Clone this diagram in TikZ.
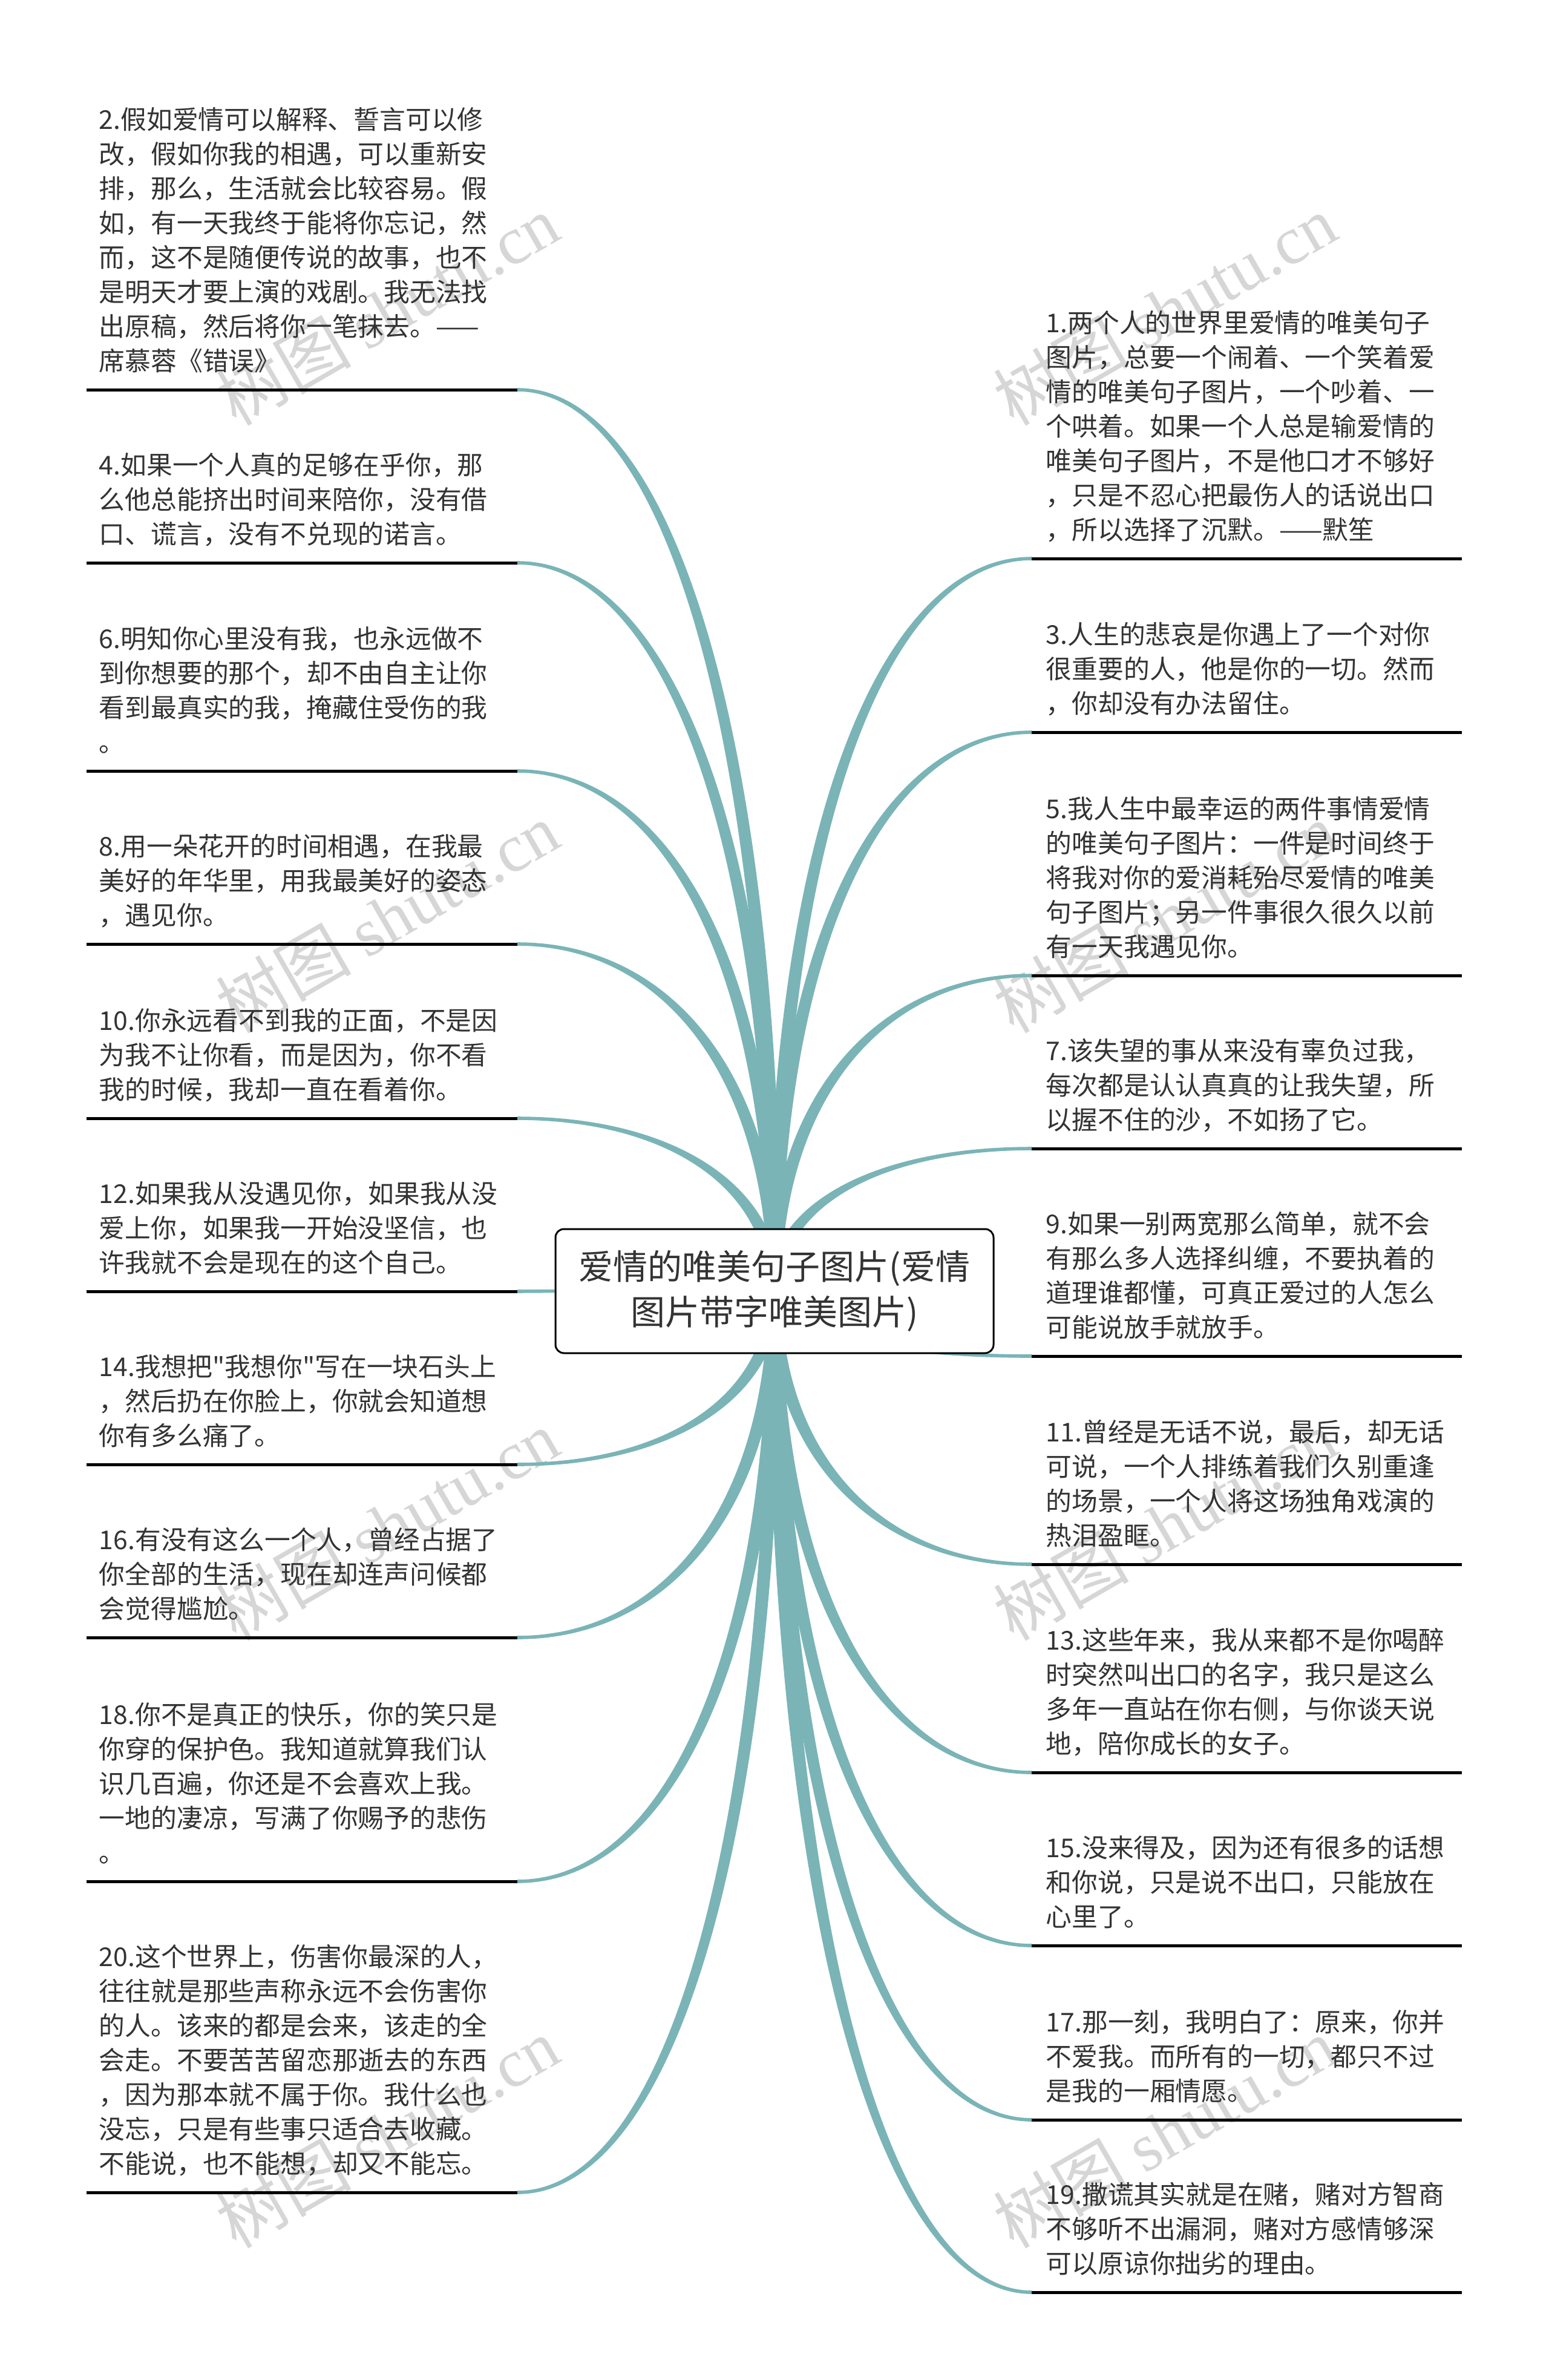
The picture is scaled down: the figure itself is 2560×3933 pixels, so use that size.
\documentclass[tikz,border=0pt]{standalone}
\usepackage{fontspec}
\setmainfont{Noto Sans CJK SC}[Ligatures=TeXOff]
\newfontfamily\wmlatin{Liberation Serif}
\usetikzlibrary{calc,backgrounds}
\definecolor{branchc}{RGB}{122,180,183}
\definecolor{txtc}{RGB}{51,51,51}
\definecolor{wmc}{RGB}{214,214,214}
\newcommand\brW{2.75pt}
\newcommand\brE{0.7pt}
\newcommand\brA{0.6}
\newcommand\brB{0.6}
% tapered branch from the root centre to a named end point; #2 = orientation sign
\newcommand\tbranch[2]{%
  \fill[branchc] let \p1=(root.center), \p2=(#1) in
  ({\x1+\brW},{\y1})
  .. controls ({\x1+\brW},{\y1+\brB*(\y2-(#2)*\brE-\y1)})
  and ({\x2+\brA*(\x1+\brW-\x2)},{\y2-(#2)*\brE})
  .. ({\x2},{\y2-(#2)*\brE})
  -- ({\x2},{\y2+(#2)*\brE})
  .. controls ({\x2+\brA*(\x1-\brW-\x2)},{\y2+(#2)*\brE})
  and ({\x1-\brW},{\y1+\brB*(\y2+(#2)*\brE-\y1)})
  .. ({\x1-\brW},{\y1}) -- cycle;}
\begin{document}
\begin{tikzpicture}[x=0.25pt,y=-0.25pt,
  leaf/.style={anchor=base west, inner sep=0pt, text width=180pt, align=left,
    text=txtc, font=\fontsize{10.7pt}{14.25pt}\selectfont},
  uline/.style={line width=1.25pt, draw=black},
  wm/.style={rotate=30, text=wmc, inner sep=0pt, font=\fontsize{28pt}{28pt}\selectfont},
  rootbox/.style={draw=black, line width=0.75pt, rounded corners=3.5pt, fill=white,
    minimum width=181pt, minimum height=51.25pt, inner sep=0pt, align=center,
    text=txtc, font=\fontsize{14.25pt}{18.75pt}\selectfont}]
\useasboundingbox (0,0) rectangle (2560,3933);

% end points of the connectors (inner ends of the underlines)
\coordinate (e2) at (855,644);   \coordinate (o2) at (143,644);
\coordinate (e4) at (855,930);   \coordinate (o4) at (143,930);
\coordinate (e6) at (855,1274);  \coordinate (o6) at (143,1274);
\coordinate (e8) at (855,1560);  \coordinate (o8) at (143,1560);
\coordinate (e10) at (855,1848); \coordinate (o10) at (143,1848);
\coordinate (e12) at (855,2134); \coordinate (o12) at (143,2134);
\coordinate (e14) at (855,2420); \coordinate (o14) at (143,2420);
\coordinate (e16) at (855,2706); \coordinate (o16) at (143,2706);
\coordinate (e18) at (855,3109); \coordinate (o18) at (143,3109);
\coordinate (e20) at (855,3623); \coordinate (o20) at (143,3623);
\coordinate (e1) at (1705,923);   \coordinate (o1) at (2416,923);
\coordinate (e3) at (1705,1210);  \coordinate (o3) at (2416,1210);
\coordinate (e5) at (1705,1612);  \coordinate (o5) at (2416,1612);
\coordinate (e7) at (1705,1898);  \coordinate (o7) at (2416,1898);
\coordinate (e9) at (1705,2241);  \coordinate (o9) at (2416,2241);
\coordinate (e11) at (1705,2585); \coordinate (o11) at (2416,2585);
\coordinate (e13) at (1705,2929); \coordinate (o13) at (2416,2929);
\coordinate (e15) at (1705,3215); \coordinate (o15) at (2416,3215);
\coordinate (e17) at (1705,3503); \coordinate (o17) at (2416,3503);
\coordinate (e19) at (1705,3788); \coordinate (o19) at (2416,3788);

% central topic
\node[rootbox] (root) at (1280,2133.5) {爱情的唯美句子图片(爱情\\图片带字唯美图片)};

\begin{scope}[on background layer]
  \fill[white] (0,0) rectangle (2560,3933);
  % watermarks
  \node[wm] (wm1) at (640,512)  {树图 {\wmlatin shutu.cn}};
  \node[wm] (wm2) at (1925,512) {树图 {\wmlatin shutu.cn}};
  \node[wm] (wm3) at (640,1516)  {树图 {\wmlatin shutu.cn}};
  \node[wm] (wm4) at (1925,1516) {树图 {\wmlatin shutu.cn}};
  \node[wm] (wm5) at (640,2520)  {树图 {\wmlatin shutu.cn}};
  \node[wm] (wm6) at (1925,2520) {树图 {\wmlatin shutu.cn}};
  \node[wm] (wm7) at (640,3524)  {树图 {\wmlatin shutu.cn}};
  \node[wm] (wm8) at (1925,3524) {树图 {\wmlatin shutu.cn}};
  % connectors
  \tbranch{e2}{-1}\tbranch{e4}{-1}\tbranch{e6}{-1}\tbranch{e8}{-1}\tbranch{e10}{-1}
  \tbranch{e14}{1}\tbranch{e16}{1}\tbranch{e18}{1}\tbranch{e20}{1}
  \tbranch{e1}{1}\tbranch{e3}{1}\tbranch{e5}{1}\tbranch{e7}{1}
  \tbranch{e9}{-1}\tbranch{e11}{-1}\tbranch{e13}{-1}\tbranch{e15}{-1}\tbranch{e17}{-1}\tbranch{e19}{-1}
  \draw[branchc, line width=1.4pt] (root.west) -- (e12);
  % underlines
  \foreach \i in {1,...,20} {\draw[uline] (e\i) -- (o\i);}
\end{scope}

% left texts
\node[leaf] (t2) at (163,213) {2.假如爱情可以解释、誓言可以修\\改，假如你我的相遇，可以重新安\\排，那么，生活就会比较容易。假\\如，有一天我终于能将你忘记，然\\而，这不是随便传说的故事，也不\\是明天才要上演的戏剧。我无法找\\出原稿，然后将你一笔抹去。——\\席慕蓉《错误》};
\node[leaf] (t4) at (163,784) {4.如果一个人真的足够在乎你，那\\么他总能挤出时间来陪你，没有借\\口、谎言，没有不兑现的诺言。};
\node[leaf] (t6) at (163,1071) {6.明知你心里没有我，也永远做不\\到你想要的那个，却不由自主让你\\看到最真实的我，掩藏住受伤的我\\。};
\node[leaf] (t8) at (163,1414) {8.用一朵花开的时间相遇，在我最\\美好的年华里，用我最美好的姿态\\，遇见你。};
\node[leaf] (t10) at (163,1702) {10.你永远看不到我的正面，不是因\\为我不让你看，而是因为，你不看\\我的时候，我却一直在看着你。};
\node[leaf] (t12) at (163,1988) {12.如果我从没遇见你，如果我从没\\爱上你，如果我一开始没坚信，也\\许我就不会是现在的这个自己。};
\node[leaf] (t14) at (163,2274) {14.我想把"我想你"写在一块石头上\\，然后扔在你脸上，你就会知道想\\你有多么痛了。};
\node[leaf] (t16) at (163,2560) {16.有没有这么一个人，曾经占据了\\你全部的生活，现在却连声问候都\\会觉得尴尬。};
\node[leaf] (t18) at (163,2849) {18.你不是真正的快乐，你的笑只是\\你穿的保护色。我知道就算我们认\\识几百遍，你还是不会喜欢上我。\\一地的凄凉，写满了你赐予的悲伤\\。};
\node[leaf] (t20) at (163,3249) {20.这个世界上，伤害你最深的人，\\往往就是那些声称永远不会伤害你\\的人。该来的都是会来，该走的全\\会走。不要苦苦留恋那逝去的东西\\，因为那本就不属于你。我什么也\\没忘，只是有些事只适合去收藏。\\不能说，也不能想，却又不能忘。};

% right texts
\node[leaf] (t1) at (1728,549) {1.两个人的世界里爱情的唯美句子\\图片，总要一个闹着、一个笑着爱\\情的唯美句子图片，一个吵着、一\\个哄着。如果一个人总是输爱情的\\唯美句子图片，不是他口才不够好\\，只是不忍心把最伤人的话说出口\\，所以选择了沉默。——默笙};
\node[leaf] (t3) at (1728,1064) {3.人生的悲哀是你遇上了一个对你\\很重要的人，他是你的一切。然而\\，你却没有办法留住。};
\node[leaf] (t5) at (1728,1352) {5.我人生中最幸运的两件事情爱情\\的唯美句子图片：一件是时间终于\\将我对你的爱消耗殆尽爱情的唯美\\句子图片；另一件事很久很久以前\\有一天我遇见你。};
\node[leaf] (t7) at (1728,1752) {7.该失望的事从来没有辜负过我，\\每次都是认认真真的让我失望，所\\以握不住的沙，不如扬了它。};
\node[leaf] (t9) at (1728,2038) {9.如果一别两宽那么简单，就不会\\有那么多人选择纠缠，不要执着的\\道理谁都懂，可真正爱过的人怎么\\可能说放手就放手。};
\node[leaf] (t11) at (1728,2382) {11.曾经是无话不说，最后，却无话\\可说，一个人排练着我们久别重逢\\的场景，一个人将这场独角戏演的\\热泪盈眶。};
\node[leaf] (t13) at (1728,2726) {13.这些年来，我从来都不是你喝醉\\时突然叫出口的名字，我只是这么\\多年一直站在你右侧，与你谈天说\\地，陪你成长的女子。};
\node[leaf] (t15) at (1728,3069) {15.没来得及，因为还有很多的话想\\和你说，只是说不出口，只能放在\\心里了。};
\node[leaf] (t17) at (1728,3357) {17.那一刻，我明白了：原来，你并\\不爱我。而所有的一切，都只不过\\是我的一厢情愿。};
\node[leaf] (t19) at (1728,3642) {19.撒谎其实就是在赌，赌对方智商\\不够听不出漏洞，赌对方感情够深\\可以原谅你拙劣的理由。};
\end{tikzpicture}
\end{document}
